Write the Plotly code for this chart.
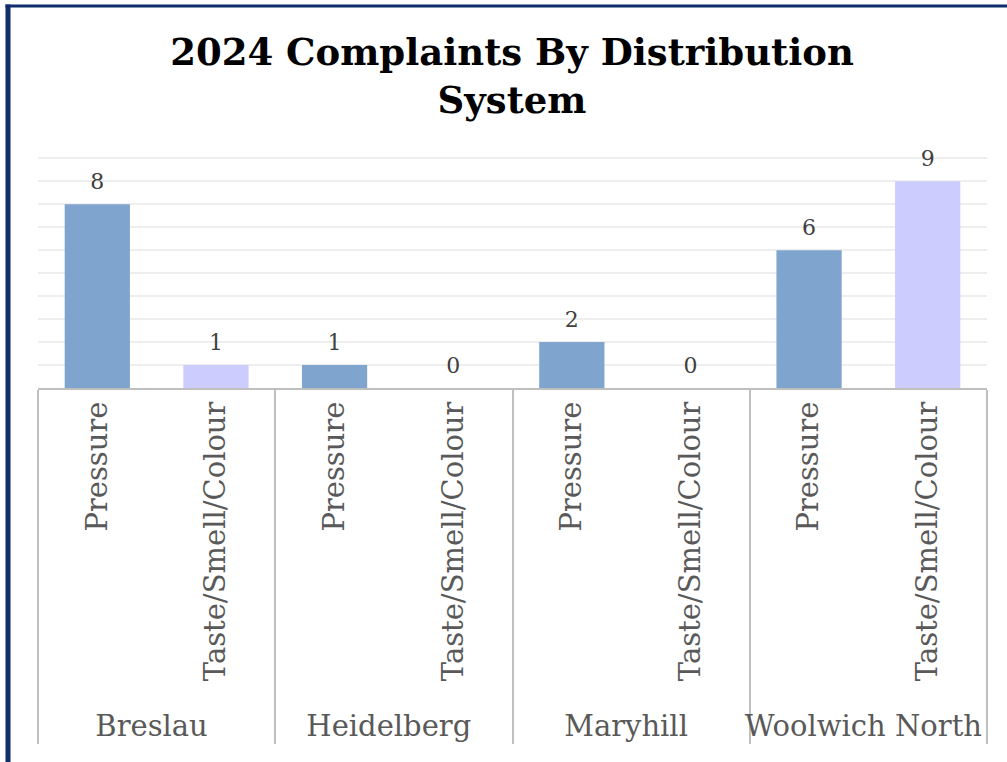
import plotly.graph_objects as go

systems = ["Breslau", "Breslau", "Heidelberg", "Heidelberg", "Maryhill", "Maryhill",
           "Woolwich North", "Woolwich North"]
types = ["Pressure", "Taste/Smell/Colour"] * 4
counts = [8, 1, 1, 0, 2, 0, 6, 9]

type_colors = {"Pressure": "#7FA5CF", "Taste/Smell/Colour": "#CCCCFF"}

W, H = 1007, 762
ml, mr, mt, mb = 38, 20, 156, 374
FONT = "DejaVu Serif"

fig = go.Figure()
fig.add_trace(go.Bar(
    x=[systems, types], y=counts,
    marker=dict(color=[type_colors[t] for t in types], line=dict(width=0)),
    width=0.55,
    showlegend=False, hoverinfo="x+y",
))
fig.add_trace(go.Scatter(
    x=[systems, types], y=counts,
    mode="markers+text",
    marker=dict(size=14, opacity=0),
    text=[str(c) for c in counts], textposition="top center",
    textfont=dict(family=FONT, size=22, color="#404040"),
    cliponaxis=False, showlegend=False, hoverinfo="skip",
))

fig.update_layout(
    width=W, height=H,
    margin=dict(l=ml, r=mr, t=mt, b=mb, autoexpand=False),
    paper_bgcolor="white", plot_bgcolor="white",
    title=dict(text="<b>2024 Complaints By Distribution<br>System</b>",
               x=512 / W, xanchor="center",
               y=1 - 65 / H, yanchor="middle",
               font=dict(family=FONT, size=37, color="#000000")),
    xaxis=dict(type="multicategory", tickangle=-90, range=[-0.5, 7.5],
               tickfont=dict(family=FONT, size=29, color="#595959"),
               showline=True, linecolor="#BFBFBF", linewidth=2,
               showdividers=True, dividercolor="#BFBFBF", dividerwidth=2,
               ticks="", showgrid=False),
    yaxis=dict(range=[0, 10.1], dtick=1, showticklabels=False, showgrid=True,
               gridcolor="#EEEEEE", gridwidth=2, zeroline=False, showline=False),
    font=dict(family=FONT),
)

pw = W - ml - mr
ph = H - mt - mb
def px2x(px):
    return (px - ml) / pw
def py2y(py):
    return 1 - (py - mt) / ph

navy = "#102D6C"
fig.add_shape(type="line", xref="paper", yref="paper",
              x0=px2x(8), x1=px2x(8), y0=py2y(4.5), y1=py2y(800),
              line=dict(color=navy, width=5))
fig.add_shape(type="line", xref="paper", yref="paper",
              x0=px2x(5.5), x1=px2x(1100), y0=py2y(6), y1=py2y(6),
              line=dict(color=navy, width=3))

fig.write_html("out.html", config={"displayModeBar": False},
               post_script="document.body.style.margin='0px';")
